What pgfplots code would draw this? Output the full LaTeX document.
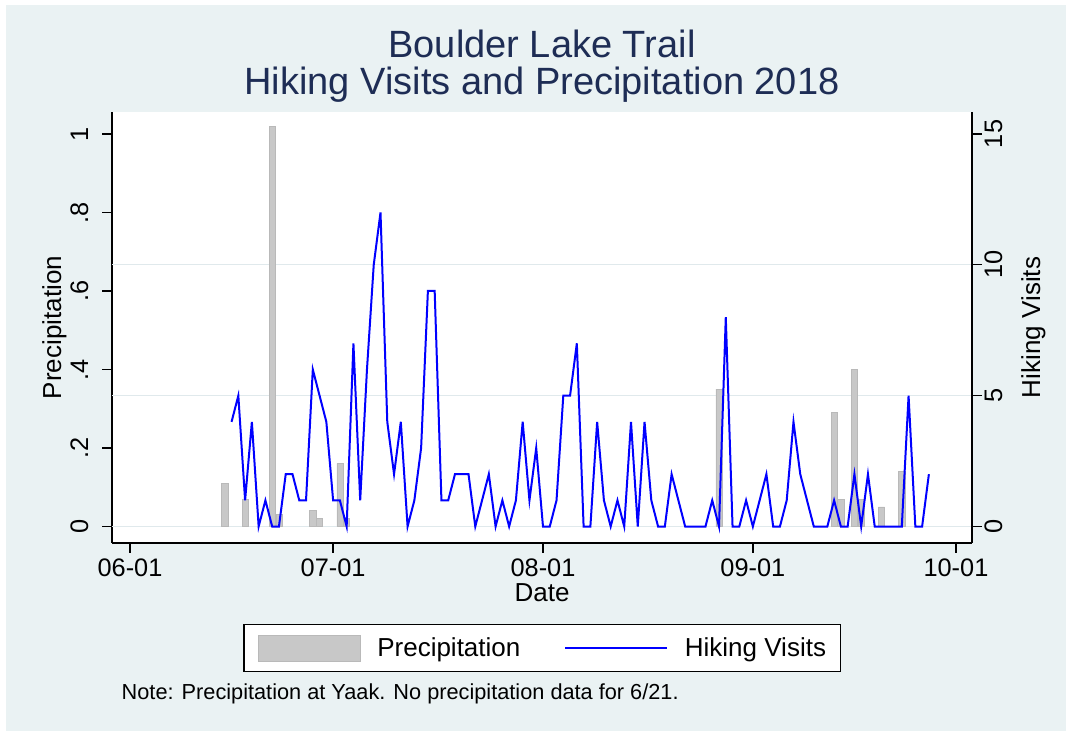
\documentclass[border=0pt]{standalone}
\usepackage{fontspec}
\setmainfont{Liberation Sans}
\usepackage{pgfplots}
\pgfplotsset{compat=1.18}

\definecolor{bgc}{RGB}{234,242,243}
\definecolor{titlec}{RGB}{30,45,85}
\definecolor{gridc}{RGB}{224,233,236}
\definecolor{barfill}{RGB}{200,200,200}
\definecolor{baredge}{RGB}{185,185,185}

\begin{document}
\begin{tikzpicture}[x=0.75pt,y=0.75pt]
\useasboundingbox (0,0) rectangle (1069,734);
\fill[white] (0,0) rectangle (1069,734);
\fill[bgc] (6,3) rectangle (1066,729);

% title
\node[anchor=base, text=titlec, font=\fontsize{28.5}{30}\selectfont] at (542,676) {Boulder Lake Trail};
\node[anchor=base, text=titlec, font=\fontsize{28.5}{30}\selectfont] at (542,639) {Hiking Visits and Precipitation 2018};

% precipitation (left axis)
\begin{axis}[
  at={(84pt,143.25pt)}, anchor=south west,
  scale only axis, width=645pt, height=323.25pt,
  xmin=-2.66, xmax=124.37, ymin=-0.042, ymax=1.056,
  axis background/.style={fill=white},
  axis x line*=bottom, axis y line*=left,
  axis line style={line width=1pt, black},
  tick align=outside, major tick length=7.5pt,
  tick style={line width=1pt, black},
  xtick={0,30,61,92,122},
  xticklabels={06-01,07-01,08-01,09-01,10-01},
  ytick={0,0.2,0.4,0.6,0.8,1},
  yticklabels={0,.2,.4,.6,.8,1},
  ticklabel style={font=\fontsize{19}{19}\selectfont},
  xticklabel style={anchor=base}, xticklabel shift=18pt,
  yticklabel style={rotate=90, anchor=base}, yticklabel shift=10.5pt,
  extra y ticks={0,0.33333,0.66667}, extra y tick labels={},
  extra y tick style={grid=major, major tick length=0pt},
  major grid style={gridc, line width=1pt},
  xlabel={Date}, ylabel={Precipitation},
  label style={font=\fontsize{19.5}{20}\selectfont},
  xlabel style={at={(axis description cs:0.5,-0.1365)}, anchor=base},
  ylabel style={at={(axis description cs:-0.0593,0.5)}, anchor=base},
]
\addplot[ybar, bar width=0.9, fill=barfill, draw=baredge, line width=0.5pt] coordinates {
  (14,0.11) (17,0.07) (21,1.02) (22,0.03) (27,0.04) (28,0.02) (31,0.16) (32,0.02)
  (87,0.35) (104,0.29) (105,0.07) (107,0.40) (108,0.07) (111,0.05) (114,0.14)
};
\end{axis}

% hiking visits (right axis)
\begin{axis}[
  at={(84pt,143.25pt)}, anchor=south west,
  scale only axis, width=645pt, height=323.25pt,
  xmin=-2.66, xmax=124.37, ymin=-0.63, ymax=15.84,
  axis x line=none, axis y line*=right,
  axis line style={line width=1pt, black},
  tick align=outside, major tick length=7.5pt,
  tick style={line width=1pt, black},
  ytick={0,5,10,15}, yticklabels={0,5,10,15},
  yticklabel style={rotate=90, anchor=base, font=\fontsize{19}{19}\selectfont},
  yticklabel shift=15pt,
  ylabel={Hiking Visits},
  ylabel style={font=\fontsize{19.5}{20}\selectfont, at={(axis description cs:1.0791,0.5)}, anchor=base},
  legend columns=2,
  legend style={at={(axis description cs:0.5,-0.2436)}, anchor=center,
    draw=black, line width=0.8pt, fill=white, inner xsep=10.5pt, inner ysep=7.5pt,
    font=\fontsize{19.5}{20}\selectfont, cells={anchor=west}, nodes={inner sep=0pt},
    /tikz/every odd column/.append style={column sep=12.4pt},
    /tikz/every even column/.append style={column sep=33pt}},
]
\addlegendimage{legend image code/.code={\draw[fill=barfill, draw=baredge, line width=0.6pt] (0pt,-9.75pt) rectangle (76.5pt,9.75pt);}}
\addlegendentry{Precipitation}
\addplot[blue, line width=1.5pt,
  legend image code/.code={\draw[blue, line width=1.5pt] (0pt,0pt) -- (76.5pt,0pt);}]
  coordinates {
  (15,4) (16,5) (17,1) (18,4) (19,0) (20,1) (21,0) (22,0) (23,2) (24,2)
  (25,1) (26,1) (27,6) (28,5) (29,4) (30,1) (31,1) (32,0) (33,7) (34,1)
  (35,6) (36,10) (37,12) (38,4) (39,2) (40,4) (41,0) (42,1) (43,3) (44,9)
  (45,9) (46,1) (47,1) (48,2) (49,2) (50,2) (51,0) (52,1) (53,2) (54,0)
  (55,1) (56,0) (57,1) (58,4) (59,1) (60,3) (61,0) (62,0) (63,1) (64,5)
  (65,5) (66,7) (67,0) (68,0) (69,4) (70,1) (71,0) (72,1) (73,0) (74,4)
  (75,0) (76,4) (77,1) (78,0) (79,0) (80,2) (81,1) (82,0) (83,0) (84,0)
  (85,0) (86,1) (87,0) (88,8) (89,0) (90,0) (91,1) (92,0) (93,1) (94,2)
  (95,0) (96,0) (97,1) (98,4) (99,2) (100,1) (101,0) (102,0) (103,0) (104,1)
  (105,0) (106,0) (107,2) (108,0) (109,2) (110,0) (111,0) (112,0) (113,0) (114,0)
  (115,5) (116,0) (117,0) (118,2)
};
\addlegendentry{Hiking Visits}
\end{axis}

\node[anchor=base west, font=\fontsize{16.3}{18}\selectfont] at (117,34) {Note: Precipitation at Yaak. No precipitation data for 6/21.};
\end{tikzpicture}
\end{document}
